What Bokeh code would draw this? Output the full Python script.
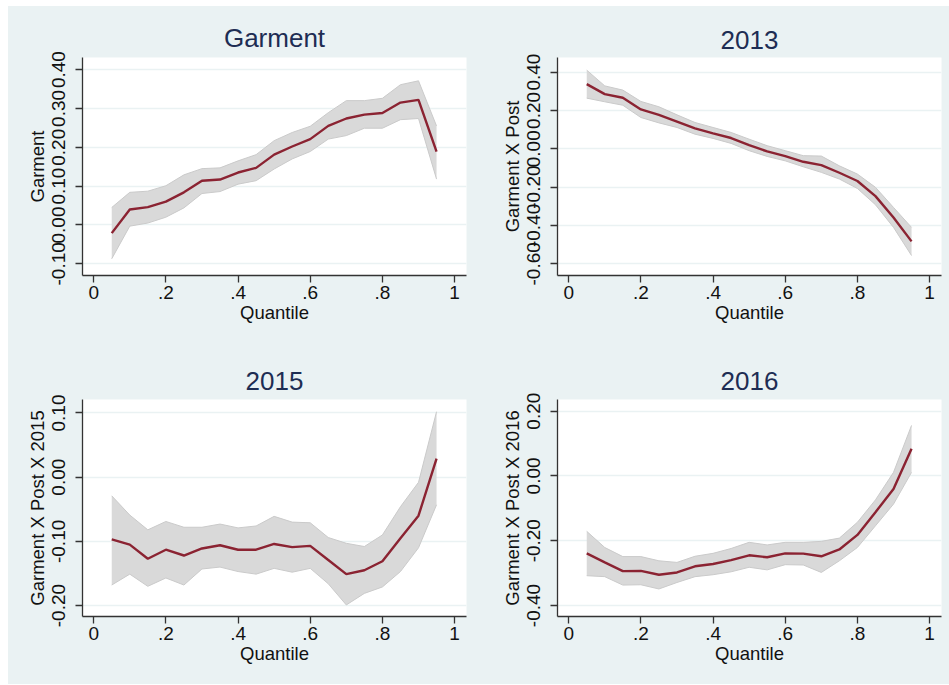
from bokeh.plotting import figure
from bokeh.layouts import column, row
from bokeh.models import Range1d, FixedTicker, NumeralTickFormatter, CustomJSTickFormatter, Spacer
from bokeh.embed import file_html
from bokeh.resources import INLINE

quantiles = [0.05, 0.10, 0.15, 0.20, 0.25, 0.30, 0.35, 0.40, 0.45, 0.50,
             0.55, 0.60, 0.65, 0.70, 0.75, 0.80, 0.85, 0.90, 0.95]

garment_coef = [-0.021, 0.040, 0.046, 0.060, 0.084, 0.114, 0.117, 0.135, 0.147, 0.181,
                0.202, 0.221, 0.255, 0.274, 0.284, 0.288, 0.315, 0.322, 0.189]
garment_hi = [0.045, 0.084, 0.087, 0.101, 0.129, 0.145, 0.147, 0.165, 0.181, 0.217,
              0.238, 0.254, 0.289, 0.320, 0.320, 0.326, 0.361, 0.371, 0.255]
garment_lo = [-0.087, -0.003, 0.005, 0.020, 0.044, 0.081, 0.086, 0.105, 0.114, 0.144,
              0.170, 0.189, 0.221, 0.230, 0.249, 0.249, 0.271, 0.274, 0.118]

post_coef = [0.337, 0.285, 0.266, 0.205, 0.177, 0.142, 0.106, 0.080, 0.056, 0.019,
             -0.014, -0.038, -0.068, -0.085, -0.125, -0.168, -0.247, -0.358, -0.483]
post_hi = [0.410, 0.328, 0.306, 0.247, 0.219, 0.177, 0.137, 0.111, 0.085, 0.050,
           0.016, -0.010, -0.036, -0.038, -0.089, -0.132, -0.201, -0.306, -0.410]
post_lo = [0.264, 0.245, 0.227, 0.163, 0.135, 0.111, 0.076, 0.054, 0.028, -0.010,
           -0.040, -0.063, -0.094, -0.123, -0.158, -0.207, -0.292, -0.410, -0.557]

y2015_coef = [-0.097, -0.105, -0.127, -0.113, -0.122, -0.111, -0.106, -0.113, -0.113, -0.104,
              -0.109, -0.107, -0.129, -0.151, -0.145, -0.131, -0.095, -0.060, 0.029]
y2015_hi = [-0.029, -0.059, -0.082, -0.069, -0.078, -0.078, -0.073, -0.079, -0.076, -0.061,
            -0.070, -0.071, -0.094, -0.103, -0.108, -0.090, -0.046, -0.008, 0.102]
y2015_lo = [-0.168, -0.151, -0.170, -0.157, -0.168, -0.143, -0.140, -0.147, -0.151, -0.142,
            -0.148, -0.142, -0.166, -0.199, -0.181, -0.171, -0.147, -0.110, -0.043]

y2016_coef = [-0.239, -0.267, -0.294, -0.293, -0.305, -0.298, -0.279, -0.272, -0.260, -0.245,
              -0.251, -0.239, -0.240, -0.248, -0.227, -0.182, -0.112, -0.040, 0.084]
y2016_hi = [-0.171, -0.221, -0.249, -0.249, -0.262, -0.267, -0.248, -0.239, -0.224, -0.205,
            -0.213, -0.205, -0.205, -0.202, -0.192, -0.143, -0.074, 0.011, 0.156]
y2016_lo = [-0.308, -0.311, -0.337, -0.336, -0.349, -0.329, -0.311, -0.305, -0.296, -0.282,
            -0.290, -0.274, -0.275, -0.298, -0.262, -0.221, -0.154, -0.087, 0.011]

titles = ["Garment", "2013", "2015", "2016"]
ylabels = ["Garment", "Garment X Post", "Garment X Post X 2015", "Garment X Post X 2016"]
x_ticks = [0, 0.2, 0.4, 0.6, 0.8, 1.0]
y_ticks = [
    [-0.1, 0.0, 0.1, 0.2, 0.3, 0.4],
    [-0.6, -0.4, -0.2, 0.0, 0.2, 0.4],
    [-0.2, -0.1, 0.0, 0.1],
    [-0.4, -0.2, 0.0, 0.2],
]
y_limits = [(-0.130, 0.431), (-0.661, 0.476), (-0.217, 0.121), (-0.434, 0.236)]

BG = "#EAF2F3"
FONT = "Liberation Sans"


def panel(i, coef, hi, lo, w, h, bl, br, bt, bb, tstand):
    p = figure(width=w, height=h, output_backend="svg", toolbar_location=None,
               x_range=Range1d(-0.031, 1.033), y_range=Range1d(*y_limits[i]),
               min_border_left=bl, min_border_right=br, min_border_top=bt, min_border_bottom=bb)
    p.background_fill_color = "white"
    p.border_fill_color = BG
    p.outline_line_color = None
    p.title.text = titles[i]
    p.title.align = "center"
    p.title.text_font = FONT
    p.title.text_font_size = "26px"
    p.title.text_font_style = "normal"
    p.title.text_color = "#1E2D53"
    p.title.standoff = tstand

    p.xgrid.visible = False
    p.ygrid.grid_line_color = BG
    p.ygrid.grid_line_width = 1.5
    p.ygrid.ticker = FixedTicker(ticks=y_ticks[i])

    for ax in (p.xaxis[0], p.yaxis[0]):
        ax.axis_line_color = "#333333"
        ax.axis_line_width = 1.3
        ax.major_tick_line_color = "#333333"
        ax.major_tick_line_width = 1.3
        ax.major_tick_out = 7
        ax.major_tick_in = 0
        ax.minor_tick_line_color = None
        ax.major_label_text_font = FONT
        ax.major_label_text_font_size = "19px"
        ax.major_label_text_color = "#111111"
        ax.axis_label_text_font = FONT
        ax.axis_label_text_font_size = "18.5px"
        ax.axis_label_text_font_style = "normal"
        ax.axis_label_text_color = "#111111"

    p.xaxis[0].ticker = FixedTicker(ticks=x_ticks)
    p.xaxis[0].formatter = CustomJSTickFormatter(
        code="if (tick == 0) return '0'; if (tick == 1) return '1'; return tick.toFixed(1).replace(/^0/, '');")
    p.xaxis[0].axis_label = "Quantile"
    p.xaxis[0].major_label_standoff = 3
    p.xaxis[0].axis_label_standoff = 0

    p.yaxis[0].ticker = FixedTicker(ticks=y_ticks[i])
    p.yaxis[0].formatter = NumeralTickFormatter(format="0.00")
    p.yaxis[0].major_label_orientation = "vertical"
    p.yaxis[0].axis_label = ylabels[i]
    p.yaxis[0].major_label_standoff = 10
    p.yaxis[0].axis_label_standoff = 2

    p.varea(x=quantiles, y1=lo, y2=hi, fill_color="#D9D9D9", fill_alpha=1.0)
    p.line(quantiles, hi, line_color="#CACACA", line_width=1)
    p.line(quantiles, lo, line_color="#CACACA", line_width=1)
    p.line(quantiles, coef, line_color="#8B2332", line_width=2.4)
    return p


p1 = panel(0, garment_coef, garment_hi, garment_lo, 467, 339, 74, 9, 51, 70, 10)
p2 = panel(1, post_coef, post_hi, post_lo, 474, 339, 82, 8, 51, 70, 18)
p3 = panel(2, y2015_coef, y2015_hi, y2015_lo, 467, 339, 74, 9, 54, 68, 20)
p4 = panel(3, y2016_coef, y2016_hi, y2016_lo, 474, 339, 82, 8, 54, 68, 20)

grid = column(row(p1, p2), row(p3, p4), styles={"background-color": BG})
layout = column(Spacer(width=949, height=6),
                row(Spacer(width=8, height=678), grid))
open("out.html", "w").write(file_html(layout, INLINE))
